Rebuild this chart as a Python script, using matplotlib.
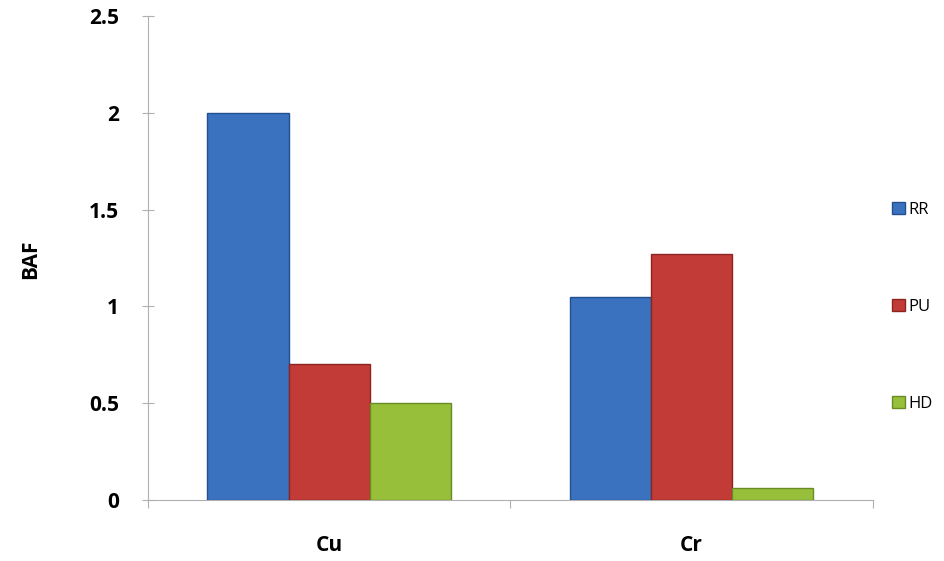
import numpy as np
import matplotlib.pyplot as plt

metals = ['Cu', 'Cr']
series = ['RR', 'PU', 'HD']
rr = [2.0, 1.05]
pu = [0.70, 1.27]
hd = [0.50, 0.06]
yticks = [0, 0.5, 1, 1.5, 2, 2.5]
ytick_labels = ['0', '0.5', '1', '1.5', '2', '2.5']

colors = ['#3a72c0', '#c33b36', '#97bf3a']
edges = ['#24508f', '#8a2522', '#6a8a25']

plt.rcParams['font.family'] = ['Open Sans', 'DejaVu Sans']

fig = plt.figure(figsize=(9.45, 5.61), dpi=100)
ax = fig.add_axes([0.1566, 0.1087, 0.767, 0.8628])

x = np.arange(len(metals))
w = 0.224
for i, (vals, name) in enumerate(zip([rr, pu, hd], series)):
    ax.bar(x + (i - 1) * w, vals, w, color=colors[i], edgecolor=edges[i],
           linewidth=1.0, label=name, zorder=3)

ax.set_xlim(-0.5, 1.5)
ax.set_ylim(0, 2.5)
ax.set_yticks(yticks)
ax.set_yticklabels(ytick_labels, fontsize=15, fontweight='bold')
ax.set_xticks([-0.5, 0.5, 1.5])
ax.set_xticklabels([])
ax.set_xticks(x, minor=True)
ax.set_xticklabels(metals, minor=True, fontsize=15, fontweight='bold')
ax.tick_params(axis='x', which='minor', length=0, pad=25)
ax.tick_params(axis='x', which='major', length=6, color='#b0b0b0')
ax.tick_params(axis='y', direction='inout', length=8, color='#b0b0b0', pad=17)

for s in ['top', 'right']:
    ax.spines[s].set_visible(False)
ax.spines['left'].set_color('#b0b0b0')
ax.spines['bottom'].set_color('#b0b0b0')

fig.text(0.032, 0.537, 'BAF', rotation=90, fontsize=15, fontweight='bold',
         ha='center', va='center')

fig.legend(loc='center left', bbox_to_anchor=(0.944, 0.453), frameon=False,
           fontsize=12, labelspacing=4.87, handlelength=0.8, handleheight=0.7,
           handletextpad=0.2, borderaxespad=0, borderpad=0)

fig.savefig('out.png', dpi=100)
